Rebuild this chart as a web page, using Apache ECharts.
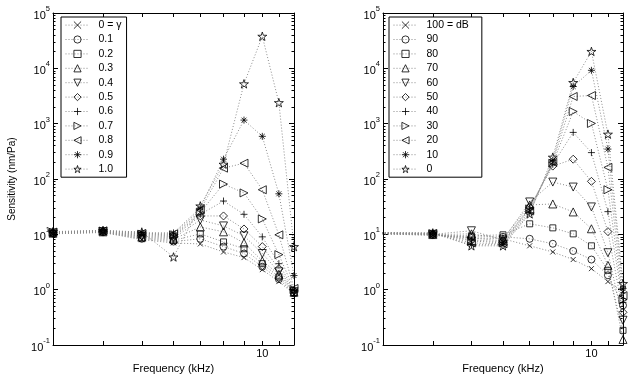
<!DOCTYPE html>
<html>
<head>
<meta charset="utf-8">
<script src="https://cdn.jsdelivr.net/npm/echarts@6/dist/echarts.min.js"></script>
<style>
html, body { margin: 0; padding: 0; background: #fff; }
#chart { width: 632px; height: 383px; }
</style>
</head>
<body>
<div id="chart"></div>
<script>
// frequency points (kHz); right panel starts off-axis
var freqLeft = [3, 4, 5, 6, 7, 8, 9, 10, 11, 12];
var freqRight = [2, 4, 5, 6, 7, 8, 9, 10, 11, 12];
var kHzTicks = [4, 5, 6, 7, 8, 9, 10, 11];
var kHzLabels = [10];

var namesLeft = ['0 = γ', '0.1', '0.2', '0.3', '0.4', '0.5', '0.6', '0.7', '0.8', '0.9', '1.0'];
var namesRight = ['100 = dB', '90', '80', '70', '60', '50', '40', '30', '20', '10', '0'];

// left panel: sensitivity (nm/Pa) per gamma
var gam00 = [10.2, 10.8, 8.0, 7.0, 6.7, 4.8, 3.8, 2.3, 1.4, 0.84];
var gam01 = [10.3, 10.9, 8.3, 7.4, 8.3, 6.0, 4.5, 2.6, 1.55, 0.86];
var gam02 = [10.4, 11.0, 8.6, 7.8, 10.2, 7.3, 5.5, 2.95, 1.7, 0.88];
var gam03 = [10.5, 11.1, 8.9, 8.2, 13.6, 11.1, 7.0, 3.3, 1.9, 0.9];
var gam04 = [10.6, 11.2, 9.2, 8.6, 18.2, 14.2, 9.4, 4.5, 2.1, 0.92];
var gam05 = [10.7, 11.3, 9.5, 9.0, 21.5, 21.5, 12.5, 6.0, 2.4, 0.95];
var gam06 = [10.8, 11.4, 9.8, 9.4, 23, 40, 23, 9.0, 2.95, 0.97];
var gam07 = [10.9, 11.5, 10.1, 9.8, 25, 81, 56, 19, 4.3, 1.0];
var gam08 = [11.0, 11.6, 10.4, 10.2, 27.6, 157, 193, 64, 9.8, 1.05];
var gam09 = [11.1, 11.7, 10.7, 10.6, 30, 228, 1160, 590, 54, 1.8];
var gam10 = [11.2, 11.8, 11.0, 3.9, 32.6, 185, 5250, 38000, 2400, 6.0];

// right panel: sensitivity (nm/Pa) per level
var db100 = [11, 9.6, 8.6, 8.3, 6.2, 4.8, 3.5, 2.4, 1.4, 0.92];
var db90 = [11, 9.7, 9.0, 9.0, 8.3, 6.75, 5.0, 3.5, 1.82, 0.52];
var db80 = [11, 9.8, 9.4, 9.8, 15.5, 13.1, 10.2, 6.2, 2.24, 0.184];
var db70 = [11, 9.9, 10.2, 8.3, 34, 35.4, 25.4, 12.6, 2.75, 0.126];
var db60 = [11, 10.0, 11.6, 7.95, 38.5, 88, 71.5, 31.3, 4.65, 0.28];
var db50 = [11, 10.1, 8.6, 7.6, 31, 171, 228, 90.6, 11.2, 0.39];
var db40 = [11, 10.2, 7.95, 7.3, 30, 185, 695, 300, 25.7, 0.59];
var db30 = [11, 10.3, 7.6, 7.0, 28.8, 193, 1660, 1010, 64, 0.66];
var db20 = [11, 10.4, 7.0, 6.75, 26.5, 200, 3100, 3230, 162, 0.78];
var db10 = [11, 10.5, 6.5, 6.5, 24.4, 219, 4690, 9200, 347, 1.05];
var db0 = [11, 10.6, 6.2, 6.2, 23.4, 248, 5540, 20200, 646, 1.29];

var rowsLeft = [gam00, gam01, gam02, gam03, gam04, gam05, gam06, gam07, gam08, gam09, gam10];
var rowsRight = [db100, db90, db80, db70, db60, db50, db40, db30, db20, db10, db0];

var FONT = '"Liberation Sans", Arial, Helvetica, sans-serif';
var crossPath = 'path://M0,0L10,10M10,0L0,10';
var plusPath = 'path://M5,0L5,10M0,5L10,5';
var astPath = 'path://M5,0L5,10M0,5L10,5M1.5,1.5L8.5,8.5M8.5,1.5L1.5,8.5';
var starPath = 'path://M50,0L61,35L98,35L68,57L79,91L50,70L21,91L32,57L2,35L39,35Z';

var markers = [
    { symbol: crossPath, size: 5, rotate: 0 },
    { symbol: 'circle', size: 7, rotate: 0 },
    { symbol: 'rect', size: 6, rotate: 0 },
    { symbol: 'triangle', size: 8, rotate: 0 },
    { symbol: 'triangle', size: 8, rotate: 180 },
    { symbol: 'diamond', size: 8, rotate: 0 },
    { symbol: plusPath, size: 7, rotate: 0 },
    { symbol: 'triangle', size: 8, rotate: -90 },
    { symbol: 'triangle', size: 8, rotate: 90 },
    { symbol: astPath, size: 7, rotate: 0 },
    { symbol: starPath, size: 9, rotate: 0 }
];

function makeSeries(names, rows, freqs, axisIdx) {
    return rows.map(function (row, i) {
        return {
            name: names[i],
            type: 'line',
            xAxisIndex: axisIdx,
            yAxisIndex: axisIdx,
            data: freqs.map(function (f, j) { return [f, row[j]]; }),
            symbol: markers[i].symbol,
            symbolSize: markers[i].size,
            symbolRotate: markers[i].rotate,
            symbolKeepAspect: true,
            showAllSymbol: true,
            clip: true,
            silent: true,
            lineStyle: { color: '#8a8a8a', width: 1, type: [1, 2] },
            itemStyle: { color: 'none', borderColor: '#000', borderWidth: 0.8 }
        };
    });
}

function xAxisCfg(grid, pos, main) {
    return {
        type: 'log', logBase: 10, min: 3, max: 12,
        gridIndex: grid, position: pos,
        axisLine: { show: true, onZero: false, lineStyle: { color: '#000', width: 1 } },
        axisTick: { show: true, inside: true, length: 4, customValues: kHzTicks, lineStyle: { color: '#000' } },
        minorTick: { show: false },
        splitLine: { show: false },
        axisLabel: {
            show: main, customValues: kHzLabels, margin: 3,
            color: '#000', fontSize: 11, fontFamily: FONT,
            formatter: function (v) { return String(Math.round(v)); }
        },
        name: main ? 'Frequency (kHz)' : '',
        nameLocation: 'middle', nameGap: 13,
        nameTextStyle: { color: '#000', fontSize: 11, fontFamily: FONT }
    };
}

function yAxisCfg(grid, pos, labels, named) {
    return {
        type: 'log', logBase: 10, min: 0.1, max: 100000,
        gridIndex: grid, position: pos,
        axisLine: { show: true, onZero: false, lineStyle: { color: '#000', width: 1 } },
        axisTick: { show: true, inside: true, length: 5, lineStyle: { color: '#000' } },
        minorTick: { show: true, splitNumber: 9, length: 2.5, lineStyle: { color: '#000' } },
        splitLine: { show: false },
        axisLabel: {
            show: labels, margin: 3,
            formatter: function (v) {
                var e = Math.round(Math.log(v) / Math.LN10);
                return '{b|10}{e|' + e + '}';
            },
            rich: {
                b: { fontSize: 11, fontFamily: FONT, color: '#000', lineHeight: 16, verticalAlign: 'bottom' },
                e: { fontSize: 7.5, fontFamily: FONT, color: '#000', lineHeight: 10, verticalAlign: 'top' }
            }
        },
        name: named ? 'Sensitivity (nm/Pa)' : '',
        nameLocation: 'middle', nameGap: 36,
        nameTextStyle: { color: '#000', fontSize: 10, fontFamily: FONT }
    };
}

function legendCfg(names, left, padRight) {
    return {
        data: names,
        orient: 'vertical',
        left: left, top: 17,
        itemWidth: 24, itemHeight: 9, itemGap: 2.2,
        padding: [2, padRight, 2, 4],
        borderColor: '#000', borderWidth: 1,
        backgroundColor: '#fff',
        selectedMode: false,
        itemStyle: { color: 'none', borderColor: '#000', borderWidth: 0.8 },
        lineStyle: { color: '#8a8a8a', width: 1, type: [1, 2] },
        textStyle: { fontSize: 10.5, lineHeight: 9, color: '#000', fontFamily: FONT, padding: [0, 0, 0, 4] }
    };
}

var chart = echarts.init(document.getElementById('chart'));
chart.setOption({
    animation: false,
    grid: [
        { left: 53, top: 13, width: 241, height: 332 },
        { left: 383, top: 13, width: 240, height: 332 }
    ],
    xAxis: [
        xAxisCfg(0, 'bottom', true),
        xAxisCfg(1, 'bottom', true),
        xAxisCfg(0, 'top', false),
        xAxisCfg(1, 'top', false)
    ],
    yAxis: [
        yAxisCfg(0, 'left', true, true),
        yAxisCfg(1, 'left', true, false),
        yAxisCfg(0, 'right', false, false),
        yAxisCfg(1, 'right', false, false)
    ],
    legend: [legendCfg(namesLeft, 61, 5), legendCfg(namesRight, 389, 13)],
    series: makeSeries(namesLeft, rowsLeft, freqLeft, 0)
        .concat(makeSeries(namesRight, rowsRight, freqRight, 1))
});
</script>
</body>
</html>
